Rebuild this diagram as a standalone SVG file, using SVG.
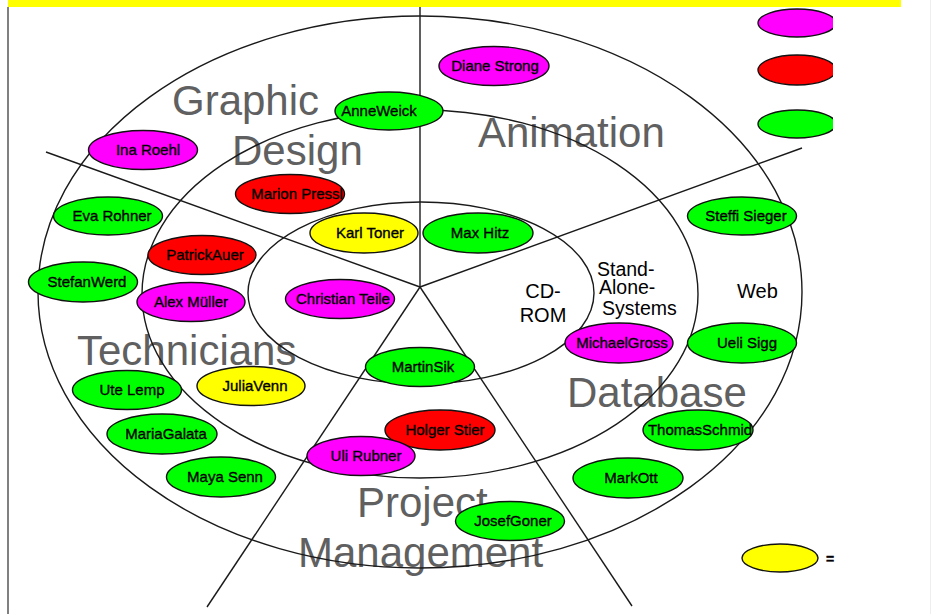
<svg xmlns="http://www.w3.org/2000/svg" width="937" height="614" viewBox="0 0 937 614">
<style>
.ring{fill:none;stroke:#1a1a1a;stroke-width:1.4}
.spoke{stroke:#1a1a1a;stroke-width:1.4}
.big{font-family:"Liberation Sans",Arial,sans-serif;font-size:42px;fill:#606060}
.sm{font-family:"Liberation Sans",Arial,sans-serif;font-size:20px;fill:#000}
.n ellipse{stroke:#111;stroke-width:1.4}
.n text{font-family:"Liberation Sans",Arial,sans-serif;font-size:15px;fill:#000;stroke:#000;stroke-width:0.35;text-anchor:middle}
.m{fill:#ff00ff}.r{fill:#ff0000}.g{fill:#00ff00}.y{fill:#ffff00}
</style>
<defs>
<clipPath id="lc"><rect x="0" y="0" width="833" height="614"/></clipPath>
</defs>
<rect width="937" height="614" fill="#fff"/>
<rect x="8" y="0" width="893" height="7" fill="#ffff00"/>
<rect x="7" y="7" width="2" height="607" fill="#808080"/>
<rect x="930" y="0" width="1" height="614" fill="#eeeeee"/>

<g id="labels">
<text class="big" x="172" y="115">Graphic</text>
<text class="big" x="232" y="165">Design</text>
<text class="big" x="478" y="147">Animation</text>
<text class="big" x="77" y="365">Technicians</text>
<text class="big" x="567" y="407">Database</text>
<text class="big" x="357" y="517">Project</text>
<text class="big" x="298" y="567">Management</text>
<text class="sm" x="543" y="298" text-anchor="middle">CD-</text>
<text class="sm" x="543" y="322" text-anchor="middle">ROM</text>
<text class="sm" x="597" y="276" style="font-size:19.5px">Stand-</text>
<text class="sm" x="599" y="294" style="font-size:19.5px">Alone-</text>
<text class="sm" x="602" y="315" style="font-size:19.5px">Systems</text>
<text class="sm" x="737" y="298">Web</text>
</g>

<g id="rings">
<ellipse class="ring" cx="420" cy="292" rx="382" ry="276"/>
<ellipse class="ring" cx="420" cy="294" rx="278" ry="184"/>
<ellipse class="ring" cx="421" cy="293" rx="173" ry="91"/>
</g>

<g id="connectors">
<line class="spoke" x1="420" y1="7" x2="420" y2="287"/>
<line class="spoke" x1="420" y1="287" x2="46" y2="152"/>
<line class="spoke" x1="420" y1="287" x2="802" y2="148"/>
<line class="spoke" x1="420" y1="287" x2="207" y2="607"/>
<line class="spoke" x1="420" y1="287" x2="632" y2="606"/>
</g>

<g id="n1" class="n"><ellipse class="m" cx="494" cy="66" rx="55" ry="19.5"/><text x="495" y="71">Diane Strong</text></g>
<g id="n2" class="n"><ellipse class="g" cx="389" cy="111" rx="54" ry="19"/><text x="379" y="116">AnneWeick</text></g>
<g id="n3" class="n"><ellipse class="m" cx="143" cy="150" rx="54.5" ry="19.5"/><text x="148" y="155">Ina Roehl</text></g>
<g id="n4" class="n"><ellipse class="r" cx="290" cy="194" rx="54.5" ry="19.5"/><text x="297" y="199">Marion Pressl</text></g>
<g id="n5" class="n"><ellipse class="g" cx="108" cy="216" rx="54.5" ry="19"/><text x="112" y="221">Eva Rohner</text></g>
<g id="n6" class="n"><ellipse class="y" cx="364" cy="233" rx="54" ry="20"/><text x="370" y="238">Karl Toner</text></g>
<g id="n7" class="n"><ellipse class="g" cx="478" cy="233" rx="55" ry="20"/><text x="480" y="238">Max Hitz</text></g>
<g id="n8" class="n"><ellipse class="g" cx="742" cy="216" rx="54.5" ry="19"/><text x="746" y="221">Steffi Sieger</text></g>
<g id="n9" class="n"><ellipse class="r" cx="202" cy="255" rx="54" ry="19.5"/><text x="205" y="260">PatrickAuer</text></g>
<g id="n10" class="n"><ellipse class="g" cx="83" cy="282" rx="54.5" ry="20"/><text x="87" y="287">StefanWerd</text></g>
<g id="n11" class="n"><ellipse class="m" cx="191" cy="302" rx="54" ry="19.5"/><text x="191" y="307">Alex Müller</text></g>
<g id="n12" class="n"><ellipse class="m" cx="340" cy="299" rx="54.5" ry="19.5"/><text x="343" y="304">Christian Teile</text></g>
<g id="n13" class="n"><ellipse class="m" cx="619" cy="343" rx="54" ry="20"/><text x="622" y="348">MichaelGross</text></g>
<g id="n14" class="n"><ellipse class="g" cx="742" cy="343" rx="54.5" ry="20"/><text x="747" y="348">Ueli Sigg</text></g>
<g id="n15" class="n"><ellipse class="g" cx="420" cy="367" rx="54.5" ry="19.5"/><text x="423" y="372">MartinSik</text></g>
<g id="n16" class="n"><ellipse class="g" cx="127" cy="390" rx="54.5" ry="19.5"/><text x="132" y="395">Ute Lemp</text></g>
<g id="n17" class="n"><ellipse class="y" cx="251" cy="386" rx="54" ry="19.5"/><text x="255" y="391">JuliaVenn</text></g>
<g id="n18" class="n"><ellipse class="g" cx="162" cy="434" rx="55" ry="20"/><text x="166" y="439">MariaGalata</text></g>
<g id="n19" class="n"><ellipse class="r" cx="440" cy="430" rx="55" ry="20"/><text x="445" y="435">Holger Stier</text></g>
<g id="n20" class="n"><ellipse class="g" cx="698" cy="430" rx="55" ry="20"/><text x="700" y="435">ThomasSchmid</text></g>
<g id="n21" class="n"><ellipse class="m" cx="361" cy="456" rx="54" ry="19.5"/><text x="366" y="461">Uli Rubner</text></g>
<g id="n22" class="n"><ellipse class="g" cx="221" cy="477" rx="54.5" ry="20"/><text x="225" y="482">Maya Senn</text></g>
<g id="n23" class="n"><ellipse class="g" cx="628" cy="478" rx="55" ry="20"/><text x="631" y="483">MarkOtt</text></g>
<g id="n24" class="n"><ellipse class="g" cx="510" cy="521" rx="54.5" ry="19.5"/><text x="513" y="526">JosefGoner</text></g>

<g id="legend" class="n">
<g clip-path="url(#lc)">
<ellipse class="m" cx="797" cy="23" rx="39" ry="14"/>
<ellipse class="r" cx="797" cy="70" rx="39" ry="15"/>
<ellipse class="g" cx="797" cy="124" rx="39" ry="14"/>
</g>
<ellipse class="y" cx="780" cy="558" rx="38" ry="14"/>
<text x="830" y="564" style="font-weight:bold;font-size:14px">=</text>
</g>
</svg>
